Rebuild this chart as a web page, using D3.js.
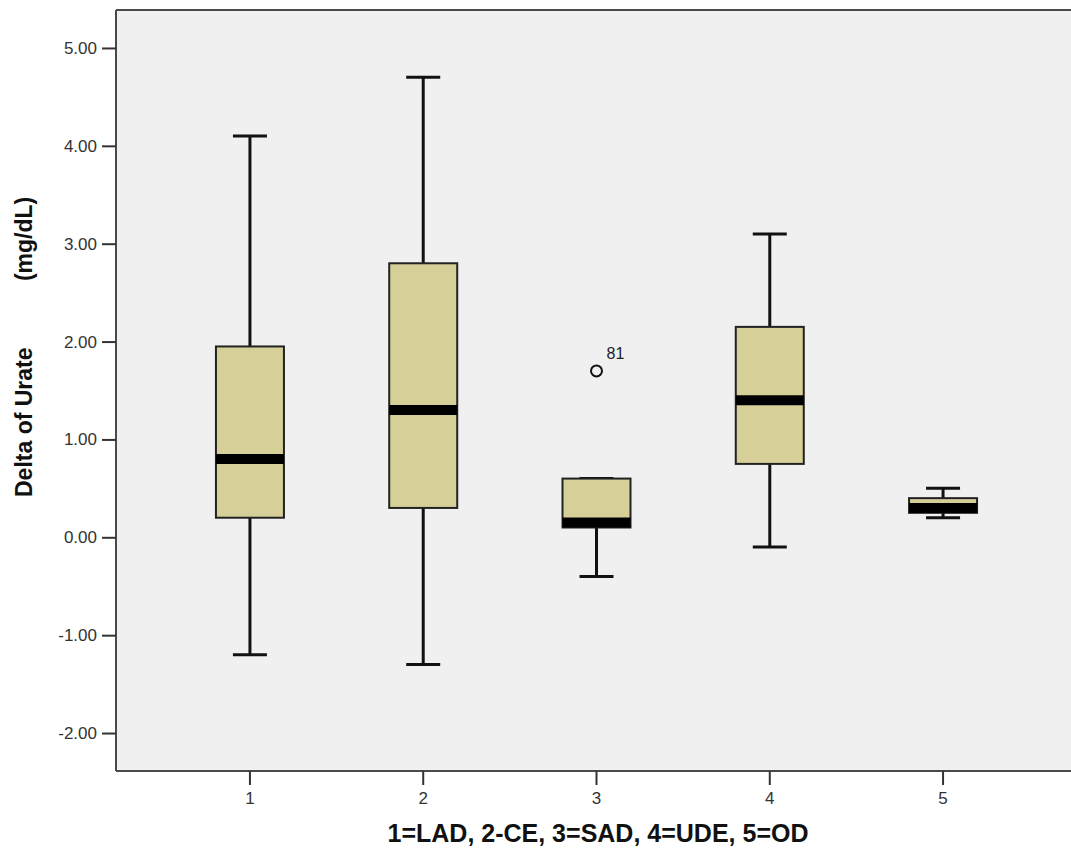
<!DOCTYPE html>
<html>
<head>
<meta charset="utf-8">
<script src="https://cdn.jsdelivr.net/npm/d3@7"></script>
<style>
  html, body { margin: 0; padding: 0; background: #ffffff; }
  svg { display: block; }
  text { font-family: Arial, "Liberation Sans", sans-serif; }
</style>
</head>
<body>
<svg id="chart" width="1071" height="857"></svg>
<script>
// Groups: 1=LAD, 2=CE, 3=SAD, 4=UDE, 5=OD
const categories = ["1", "2", "3", "4", "5"];
const whiskerLow  = [-1.20, -1.30, -0.40, -0.10, 0.20];
const q1          = [ 0.20,  0.30,  0.10,  0.75, 0.25];
const median      = [ 0.80,  1.30,  0.15,  1.40, 0.30];
const q3          = [ 1.95,  2.80,  0.60,  2.15, 0.40];
const whiskerHigh = [ 4.10,  4.70,  0.60,  3.10, 0.50];
// Outliers: [category, value, case label]
const outliers = [["3", 1.70, "81"]];
const yTicks = [-2, -1, 0, 1, 2, 3, 4, 5];
const xTitle = "1=LAD, 2-CE, 3=SAD, 4=UDE, 5=OD";
const yTitleMain = "Delta of Urate";
const yTitleUnit = "(mg/dL)";

const svg = d3.select("#chart");
const plot = { left: 116, top: 10, right: 1077, bottom: 771 };

const x = d3.scaleBand()
  .domain(categories)
  .range([plot.left, plot.right])
  .paddingInner(0)
  .paddingOuter(0.273);

const y = d3.scaleLinear()
  .domain([-2.388, 5.388])
  .range([plot.bottom, plot.top]);

// Plot background
svg.append("rect")
  .attr("x", plot.left).attr("y", plot.top)
  .attr("width", plot.right - plot.left)
  .attr("height", plot.bottom - plot.top)
  .attr("fill", "#f0f0f0");

// Top frame line
svg.append("line")
  .attr("x1", plot.left).attr("x2", plot.right)
  .attr("y1", plot.top).attr("y2", plot.top)
  .attr("stroke", "#4a4a4a").attr("stroke-width", 2);

// Y axis
const yAxis = d3.axisLeft(y)
  .tickValues(yTicks)
  .tickFormat(d => d.toFixed(2))
  .tickSize(14)
  .tickPadding(5);
const gy = svg.append("g")
  .attr("transform", `translate(${plot.left},0)`)
  .call(yAxis);
gy.select(".domain").attr("stroke", "#4a4a4a").attr("stroke-width", 2)
  .attr("d", `M0,${plot.top}V${plot.bottom}`);
gy.selectAll(".tick line").attr("stroke", "#333").attr("stroke-width", 2);
gy.selectAll(".tick text").attr("fill", "#333").style("font-size", "17px");

// X axis
const xAxis = d3.axisBottom(x).tickSize(14).tickPadding(7);
const gx = svg.append("g")
  .attr("transform", `translate(0,${plot.bottom})`)
  .call(xAxis);
gx.select(".domain").attr("stroke", "#4a4a4a").attr("stroke-width", 2)
  .attr("d", `M${plot.left},0H${plot.right}`);
gx.selectAll(".tick line").attr("stroke", "#333").attr("stroke-width", 2);
gx.selectAll(".tick text").attr("fill", "#333").style("font-size", "17px");

// Boxes
const boxW = 68;
const capW = 34;
const boxes = categories.map((c, i) => ({
  c, lo: whiskerLow[i], q1: q1[i], med: median[i], q3: q3[i], hi: whiskerHigh[i]
}));

const g = svg.append("g");
boxes.forEach(b => {
  const cx = x(b.c) + x.bandwidth() / 2;
  const gb = g.append("g");
  // whisker stems
  gb.append("line").attr("x1", cx).attr("x2", cx)
    .attr("y1", y(b.q3)).attr("y2", y(b.hi))
    .attr("stroke", "#111").attr("stroke-width", 3);
  gb.append("line").attr("x1", cx).attr("x2", cx)
    .attr("y1", y(b.q1)).attr("y2", y(b.lo))
    .attr("stroke", "#111").attr("stroke-width", 3);
  // caps
  [b.hi, b.lo].forEach(v => {
    gb.append("line")
      .attr("x1", cx - capW / 2).attr("x2", cx + capW / 2)
      .attr("y1", y(v)).attr("y2", y(v))
      .attr("stroke", "#111").attr("stroke-width", 3);
  });
  // box
  gb.append("rect")
    .attr("x", cx - boxW / 2).attr("y", y(b.q3))
    .attr("width", boxW).attr("height", y(b.q1) - y(b.q3))
    .attr("fill", "#d6cf98")
    .attr("stroke", "#222").attr("stroke-width", 2);
  // median
  gb.append("line")
    .attr("x1", cx - boxW / 2).attr("x2", cx + boxW / 2)
    .attr("y1", y(b.med)).attr("y2", y(b.med))
    .attr("stroke", "#000").attr("stroke-width", 10);
});

// Outliers
outliers.forEach(([c, v, lab]) => {
  const cx = x(c) + x.bandwidth() / 2;
  g.append("circle")
    .attr("cx", cx).attr("cy", y(v)).attr("r", 5.5)
    .attr("fill", "none").attr("stroke", "#111").attr("stroke-width", 2);
  g.append("text")
    .attr("x", cx + 10).attr("y", y(v) - 12)
    .attr("fill", "#222").style("font-size", "16px")
    .text(lab);
});

// Axis titles
svg.append("text")
  .attr("x", 598)
  .attr("y", 842)
  .attr("text-anchor", "middle")
  .style("font-size", "25px").style("font-weight", "bold")
  .attr("fill", "#111")
  .text(xTitle);

const yt = svg.append("text")
  .attr("transform", `translate(32,${497}) rotate(-90)`)
  .attr("text-anchor", "start")
  .style("font-size", "23px").style("font-weight", "bold")
  .attr("fill", "#111");
yt.append("tspan").text(yTitleMain);
yt.append("tspan").attr("dx", 60).text(" " + yTitleUnit);
</script>
</body>
</html>
